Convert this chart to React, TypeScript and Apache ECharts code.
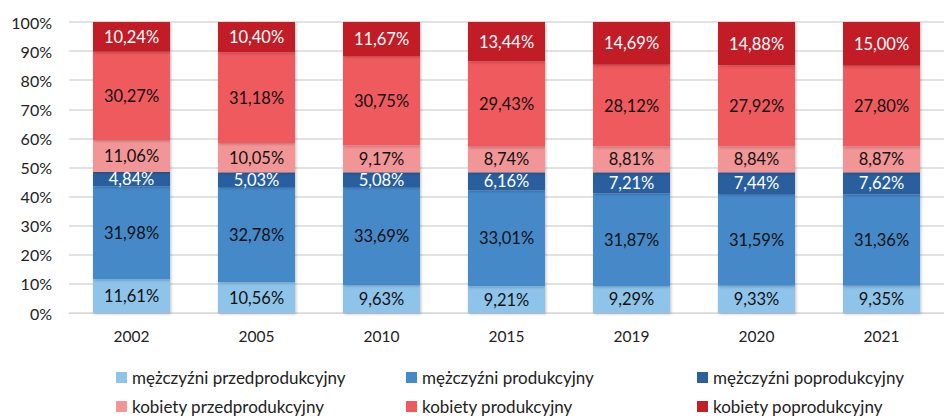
import React, { useEffect, useRef } from "react";
import * as echarts from "echarts";

const categories = ["2002", "2005", "2010", "2015", "2019", "2020", "2021"];
const seriesNames = [
  "mężczyźni przedprodukcyjny",
  "mężczyźni produkcyjny",
  "mężczyźni poprodukcyjny",
  "kobiety przedprodukcyjny",
  "kobiety produkcyjny",
  "kobiety poprodukcyjny",
];
const menPre = [11.61, 10.56, 9.63, 9.21, 9.29, 9.33, 9.35];
const menProd = [31.98, 32.78, 33.69, 33.01, 31.87, 31.59, 31.36];
const menPost = [4.84, 5.03, 5.08, 6.16, 7.21, 7.44, 7.62];
const womenPre = [11.06, 10.05, 9.17, 8.74, 8.81, 8.84, 8.87];
const womenProd = [30.27, 31.18, 30.75, 29.43, 28.12, 27.92, 27.8];
const womenPost = [10.24, 10.4, 11.67, 13.44, 14.69, 14.88, 15.0];

const seriesData = [menPre, menProd, menPost, womenPre, womenProd, womenPost];
const colors = ["#8EC4EA", "#4589C9", "#2C5F9F", "#F29597", "#EF5A5F", "#C21E27"];
const labelColors = ["#111", "#111", "#fff", "#111", "#111", "#fff"];

const legendPos = [
  { left: 111, top: 364 },
  { left: 401, top: 364 },
  { left: 692, top: 364 },
  { left: 111, top: 393 },
  { left: 401, top: 393 },
  { left: 692, top: 393 },
];

const FONT = "Lato, 'Open Sans', sans-serif";

export default function App() {
  const ref = useRef<HTMLDivElement>(null);
  useEffect(() => {
    if (!ref.current) return;
    const chart = echarts.init(ref.current, undefined, { renderer: "svg" });
    chart.setOption({
      animation: false,
      textStyle: { fontFamily: FONT },
      grid: { left: 69, right: -9, top: 22, bottom: 106, containLabel: false },
      legend: seriesNames.map((n, i) => ({
        data: [n],
        left: legendPos[i].left,
        top: legendPos[i].top,
        itemWidth: 11,
        itemHeight: 11,
        icon: "rect",
        textStyle: { fontSize: 17, color: "#222", fontFamily: FONT },
      })),
      xAxis: {
        type: "category",
        data: categories,
        axisTick: { show: false },
        axisLine: { lineStyle: { color: "#d9d9d9" } },
        axisLabel: { fontSize: 15.5, color: "#222", margin: 15, fontFamily: FONT },
      },
      yAxis: {
        type: "value",
        min: 0,
        max: 100,
        interval: 10,
        axisLabel: {
          fontSize: 16,
          color: "#222",
          margin: 17,
          fontFamily: FONT,
          formatter: (v: number) => `${v}%`,
        },
        splitLine: { lineStyle: { color: "#d9d9d9", width: 1.5 } },
        axisLine: { show: false },
        axisTick: { show: false },
      },
      series: seriesNames.map((name, i) => ({
        name,
        type: "bar",
        stack: "total",
        barWidth: 77,
        data: seriesData[i],
        itemStyle: {
          color: colors[i],
          shadowColor: "rgba(0,0,0,0.25)",
          shadowBlur: 3,
          shadowOffsetX: 1,
          shadowOffsetY: 1,
        },
        label: {
          show: true,
          position: "inside",
          fontSize: 16.5,
          color: labelColors[i],
          fontFamily: FONT,
          formatter: (p: any) => `${Number(p.value).toFixed(2).replace(".", ",")}%`,
        },
      })),
    });
    return () => chart.dispose();
  }, []);
  return (
    <div
      ref={ref}
      style={{ position: "fixed", left: 0, top: 0, width: 944, height: 419, background: "#fff" }}
    />
  );
}
